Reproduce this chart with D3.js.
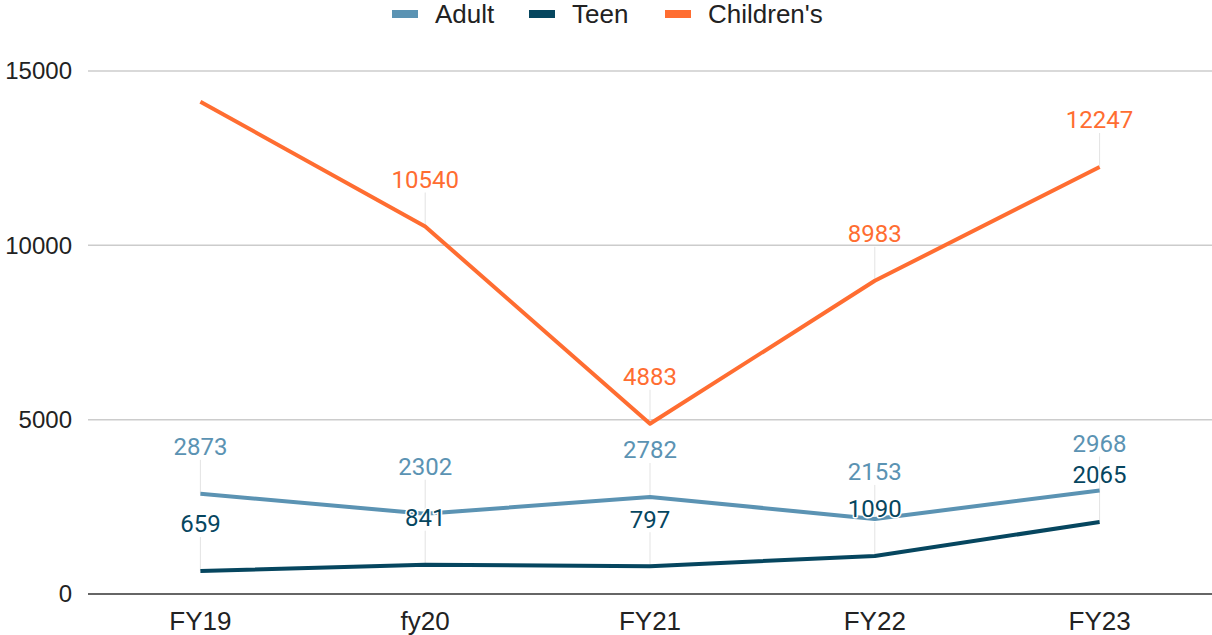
<!DOCTYPE html>
<html>
<head>
<meta charset="utf-8">
<script src="https://cdn.jsdelivr.net/npm/d3@7/dist/d3.min.js"></script>
<style>
  html, body { margin: 0; padding: 0; background: #fff; }
  svg { display: block; }
</style>
</head>
<body>
<div id="chart"></div>
<script>
// Library circulation by age group, FY19-FY23
const categories = ["FY19", "fy20", "FY21", "FY22", "FY23"];
const adult = [2873, 2302, 2782, 2153, 2968];
const teen = [659, 841, 797, 1090, 2065];
const childrens = [14120, 10540, 4883, 8983, 12247];
const yTicks = [0, 5000, 10000, 15000];

const series = [
  { name: "Adult", values: adult, color: "#5b93b3" },
  { name: "Teen", values: teen, color: "#06465f" },
  { name: "Children's", values: childrens, color: "#ff6d31" }
];

const width = 1212, height = 635;
const margin = { top: 71, right: 0, bottom: 41, left: 88 };

const svg = d3.select("#chart").append("svg")
  .attr("width", width)
  .attr("height", height);

const x = d3.scaleBand()
  .domain(categories)
  .range([margin.left, width - margin.right]);

const y = d3.scaleLinear()
  .domain([0, 15000])
  .range([height - margin.bottom, margin.top]);

const axisFont = "'Liberation Sans', Arial, sans-serif";
const labelFont = "Roboto, 'Noto Sans', sans-serif";

// gridlines
svg.append("g")
  .selectAll("line")
  .data(yTicks.filter((d) => d > 0))
  .join("line")
  .attr("x1", margin.left)
  .attr("x2", width - margin.right)
  .attr("y1", (d) => y(d))
  .attr("y2", (d) => y(d))
  .attr("stroke", "#cccccc")
  .attr("stroke-width", 1.5);

// baseline
svg.append("line")
  .attr("x1", margin.left)
  .attr("x2", width - margin.right)
  .attr("y1", y(0))
  .attr("y2", y(0))
  .attr("stroke", "#333333")
  .attr("stroke-width", 1.5);

// y tick labels
svg.append("g")
  .selectAll("text")
  .data(yTicks)
  .join("text")
  .attr("x", 72)
  .attr("y", (d) => y(d))
  .attr("dy", "0.35em")
  .attr("text-anchor", "end")
  .style("font-family", axisFont)
  .style("font-size", "24px")
  .style("fill", "#222")
  .text((d) => d);

// x labels
svg.append("g")
  .selectAll("text")
  .data(categories)
  .join("text")
  .attr("x", (d) => x(d) + x.bandwidth() / 2)
  .attr("y", 630)
  .attr("text-anchor", "middle")
  .style("font-family", axisFont)
  .style("font-size", "26px")
  .style("fill", "#222")
  .text((d) => d);

const cx = (i) => x(categories[i]) + x.bandwidth() / 2;
const LABEL_OFFSET = 47;

// leader lines for data labels (drawn under the series lines)
const leaders = svg.append("g");
series.forEach((s) => {
  leaders.selectAll(null)
    .data(s.values.map((v, i) => ({ v, i })).filter((d) => y(d.v) - LABEL_OFFSET > margin.top))
    .join("line")
    .attr("x1", (d) => cx(d.i))
    .attr("x2", (d) => cx(d.i))
    .attr("y1", (d) => y(d.v) - LABEL_OFFSET + 13)
    .attr("y2", (d) => y(d.v))
    .attr("stroke", "#e3e3e3")
    .attr("stroke-width", 1);
});

// series lines
const line = d3.line()
  .x((d, i) => cx(i))
  .y((d) => y(d));

svg.append("g")
  .selectAll("path")
  .data(series)
  .join("path")
  .attr("d", (d) => line(d.values))
  .attr("fill", "none")
  .attr("stroke", (d) => d.color)
  .attr("stroke-width", 4)
  .attr("stroke-linejoin", "round");

// data labels (hidden when they would sit above the plot area)
series.forEach((s) => {
  svg.append("g")
    .selectAll("text")
    .data(s.values.map((v, i) => ({ v, i })).filter((d) => y(d.v) - LABEL_OFFSET > margin.top))
    .join("text")
    .attr("x", (d) => cx(d.i))
    .attr("y", (d) => y(d.v) - LABEL_OFFSET)
    .attr("dy", "0.35em")
    .attr("text-anchor", "middle")
    .style("font-family", labelFont)
    .style("font-size", "24px")
    .style("fill", s.color)
    .style("paint-order", "stroke")
    .style("stroke", "#fff")
    .style("stroke-width", 3)
    .style("stroke-linejoin", "round")
    .text((d) => d.v);
});

// legend
const legendX = [392, 529, 665];
const legend = svg.append("g")
  .selectAll("g")
  .data(series)
  .join("g")
  .attr("transform", (d, i) => `translate(${legendX[i]},14)`);

legend.append("rect")
  .attr("x", 0)
  .attr("y", -4)
  .attr("width", 26)
  .attr("height", 8)
  .attr("fill", (d) => d.color);

legend.append("text")
  .attr("x", 43)
  .attr("y", 0)
  .attr("dy", "0.35em")
  .style("font-family", axisFont)
  .style("font-size", "26px")
  .style("fill", "#222")
  .text((d) => d.name);
</script>
</body>
</html>
